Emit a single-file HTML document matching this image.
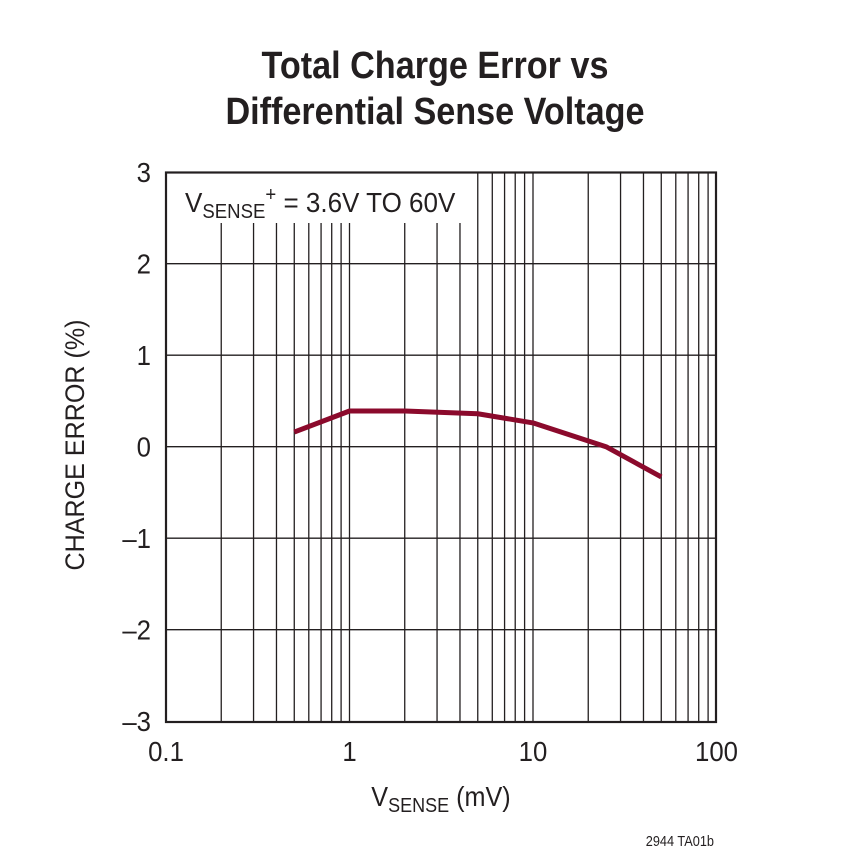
<!DOCTYPE html>
<html><head><meta charset="utf-8"><style>
body{margin:0;background:#fff;}
svg text{font-family:"Liberation Sans",Arial,sans-serif;fill:#231f20;}
</style></head><body>
<svg width="852" height="862" viewBox="0 0 852 862" xmlns="http://www.w3.org/2000/svg">
<text x="435" y="78" text-anchor="middle" font-size="38" font-weight="bold" transform="translate(435 0) scale(0.9 1) translate(-435 0)">Total Charge Error vs</text>
<text x="435" y="124" text-anchor="middle" font-size="38" font-weight="bold" transform="translate(435 0) scale(0.9 1) translate(-435 0)">Differential Sense Voltage</text>
<g id="grid"></g>
<rect x="167" y="173" width="296" height="50" fill="#fff"/>
<text x="185" y="212" font-size="28" transform="translate(185 0) scale(0.93 1) translate(-185 0)">V<tspan font-size="20" dy="6">SENSE</tspan><tspan font-size="20" dy="-17">+</tspan><tspan dy="11"> = 3.6V TO 60V</tspan></text>
<rect x="166" y="172.5" width="550" height="549.5" fill="none" stroke="#231f20" stroke-width="2.2"/>
<g id="ticks"></g>
<polyline id="series" fill="none" stroke="#8b0a2c" stroke-width="5" stroke-linejoin="round"/>
<text x="84" y="445" text-anchor="middle" font-size="27" transform="rotate(-90 84 445) translate(84 0) scale(0.93 1) translate(-84 0)">CHARGE ERROR (%)</text>
<text x="441" y="806" text-anchor="middle" font-size="28" transform="translate(441 0) scale(0.9 1) translate(-441 0)">V<tspan font-size="20" dy="6">SENSE</tspan><tspan dy="-6"> (mV)</tspan></text>
<text x="714" y="846" text-anchor="end" font-size="15" transform="translate(714 0) scale(0.85 1) translate(-714 0)">2944 TA01b</text>
</svg>
<script>
const xData=[0.5,1,2,5,10,25,50];
const yData=[0.16,0.39,0.39,0.36,0.26,0.0,-0.33];
const xTicks=[0.1,1,10,100];
const xTickLabels=["0.1","1","10","100"];
const yTicks=[3,2,1,0,-1,-2,-3];
const yTickLabels=["3","2","1","0","–1","–2","–3"];
const X0=166,DEC=183.5,Y0=446.7,UNIT=91.5;
const xs=v=>X0+(Math.log10(v)+1)*DEC;
const ys=v=>Y0-v*UNIT;
const NS="http://www.w3.org/2000/svg";
const grid=document.getElementById('grid'),ticks=document.getElementById('ticks');
function line(p,x1,y1,x2,y2,w){const l=document.createElementNS(NS,'line');l.setAttribute('x1',x1);l.setAttribute('y1',y1);l.setAttribute('x2',x2);l.setAttribute('y2',y2);l.setAttribute('stroke','#231f20');l.setAttribute('stroke-width',w);p.appendChild(l);return l;}
for(let d=0.1;d<100;d*=10){for(let k=1;k<=9;k++){const v=d*k;if(v<=0.1001)continue;const l=line(grid,xs(v),172,xs(v),722,1.3);

}}
yTicks.forEach(v=>{if(v===3||v===-3)return;const l=line(grid,166,ys(v),716,ys(v),1.3);

});
function txt(x,y,s,anchor,size){const t=document.createElementNS(NS,'text');t.setAttribute('x',x);t.setAttribute('y',y);t.setAttribute('text-anchor',anchor);t.setAttribute('font-size',size);t.setAttribute('transform',`translate(${x} 0) scale(0.92 1) translate(${-x} 0)`);t.textContent=s;ticks.appendChild(t);return t;}
xTicks.forEach((v,i)=>{const t=txt(xs(v),761,xTickLabels[i],'middle',28);

});
yTicks.forEach((v,i)=>{const t=txt(151,ys(v)+10,yTickLabels[i],'end',28);

});
document.getElementById('series').setAttribute('points',xData.map((v,i)=>xs(v)+','+ys(yData[i])).join(' '));
</script>
</body></html>
